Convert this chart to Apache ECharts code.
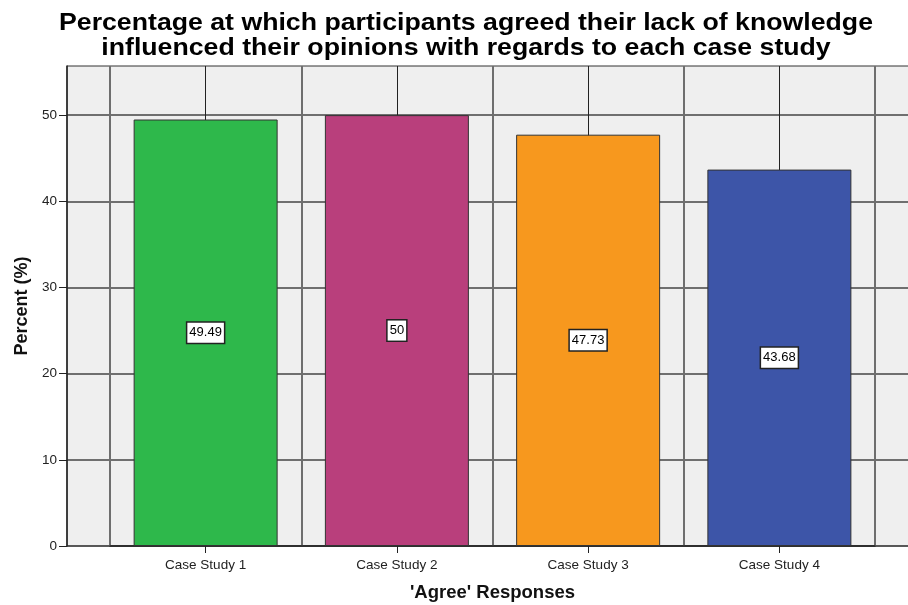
<!DOCTYPE html>
<html>
<head>
<meta charset="utf-8">
<title>Agree responses by case study</title>
<script src="https://cdn.jsdelivr.net/npm/echarts@6/dist/echarts.min.js"></script>
<style>
  html, body { margin: 0; padding: 0; background: #fff; }
  #chart { width: 908px; height: 605px; }
</style>
</head>
<body>
<div id="chart"></div>
<script>
// Chart data
const titleText = 'Percentage at which participants agreed their lack of knowledge\ninfluenced their opinions with regards to each case study';
const categories = ['Case Study 1', 'Case Study 2', 'Case Study 3', 'Case Study 4'];
const percentValues = [49.49, 50, 47.73, 43.68];
const barColors = ['#2eb84b', '#b93f7c', '#f7981e', '#3d55a8'];
const yTickLabels = [0, 10, 20, 30, 40, 50];
const yAxisMax = 55.7;
const yAxisTitle = 'Percent (%)';
const xAxisTitle = "'Agree' Responses";

const FONT = '"Liberation Sans", Arial, sans-serif';

const chart = echarts.init(document.getElementById('chart'), null, { renderer: 'canvas' });

const option = {
  backgroundColor: '#ffffff',
  animation: false,
  graphic: [{
    type: 'text',
    x: 466,
    y: 11,
    scaleX: 1.16,
    z: 10,
    style: {
      text: titleText,
      textAlign: 'center',
      fontFamily: FONT,
      fontWeight: 'bold',
      fontSize: 23,
      lineHeight: 25,
      fill: '#000'
    }
  }],
  grid: [
    // plot frame with grey background and horizontal rules
    {
      left: 67, right: -3, top: 66, bottom: 59,
      outerBoundsMode: 'none',
      show: true,
      backgroundColor: '#efefef',
      borderColor: '#333',
      borderWidth: 1
    },
    // category band area for bars
    { left: 110, right: 33, top: 66, bottom: 59, outerBoundsMode: 'none' }
  ],
  xAxis: [
    {
      gridIndex: 0, type: 'value', min: 0, max: 1,
      axisLine: { show: false }, axisTick: { show: false },
      axisLabel: { show: false }, splitLine: { show: false }
    },
    {
      gridIndex: 1,
      type: 'category',
      data: categories,
      boundaryGap: true,
      axisLine: { show: true, lineStyle: { color: '#222', width: 1.5 } },
      axisTick: { show: true, alignWithLabel: true, length: 7, lineStyle: { color: '#222' } },
      axisLabel: { color: '#222', fontSize: 13.5, fontFamily: FONT, margin: 12 },
      splitLine: { show: true, lineStyle: { color: '#6e6e6e', width: 2 } },
      name: xAxisTitle,
      nameLocation: 'middle',
      nameGap: 37,
      nameTextStyle: { fontFamily: FONT, fontWeight: 'bold', fontSize: 18.5, color: '#111' }
    }
  ],
  yAxis: [
    {
      gridIndex: 0,
      type: 'value',
      min: 0, max: yAxisMax, interval: 5,
      axisLine: { show: true, lineStyle: { color: '#222', width: 1.5 } },
      axisTick: { show: true, length: 8, customValues: yTickLabels, lineStyle: { color: '#222' } },
      axisLabel: { customValues: yTickLabels, color: '#222', fontSize: 13.5, fontFamily: FONT, margin: 10 },
      splitLine: { show: true, lineStyle: { color: '#444', width: 1.5 } },
      name: yAxisTitle,
      nameLocation: 'middle',
      nameGap: 36,
      nameTextStyle: { fontFamily: FONT, fontWeight: 'bold', fontSize: 18, color: '#111' }
    },
    {
      gridIndex: 1,
      type: 'value',
      min: 0, max: yAxisMax,
      show: false,
      splitLine: { show: false }
    }
  ],
  series: [{
    type: 'bar',
    xAxisIndex: 1,
    yAxisIndex: 1,
    z: 3,
    barWidth: 144,
    data: percentValues.map((v, i) => ({
      value: v,
      itemStyle: { color: barColors[i] }
    })),
    itemStyle: { borderColor: '#333', borderWidth: 1 },
    label: {
      show: true,
      position: 'inside',
      formatter: '{c}',
      color: '#000',
      fontSize: 13,
      fontFamily: FONT,
      backgroundColor: '#fff',
      borderColor: '#222',
      borderWidth: 1.5,
      padding: [4, 2, 3, 2]
    },
    // thin centre rules for each category, drawn beneath the bars
    markLine: {
      silent: true,
      symbol: 'none',
      z: 1,
      label: { show: false },
      lineStyle: { color: '#222', width: 1, type: 'solid' },
      data: categories.map(c => [{ coord: [c, 0] }, { coord: [c, yAxisMax] }])
    }
  }]
};

chart.setOption(option);
</script>
</body>
</html>
